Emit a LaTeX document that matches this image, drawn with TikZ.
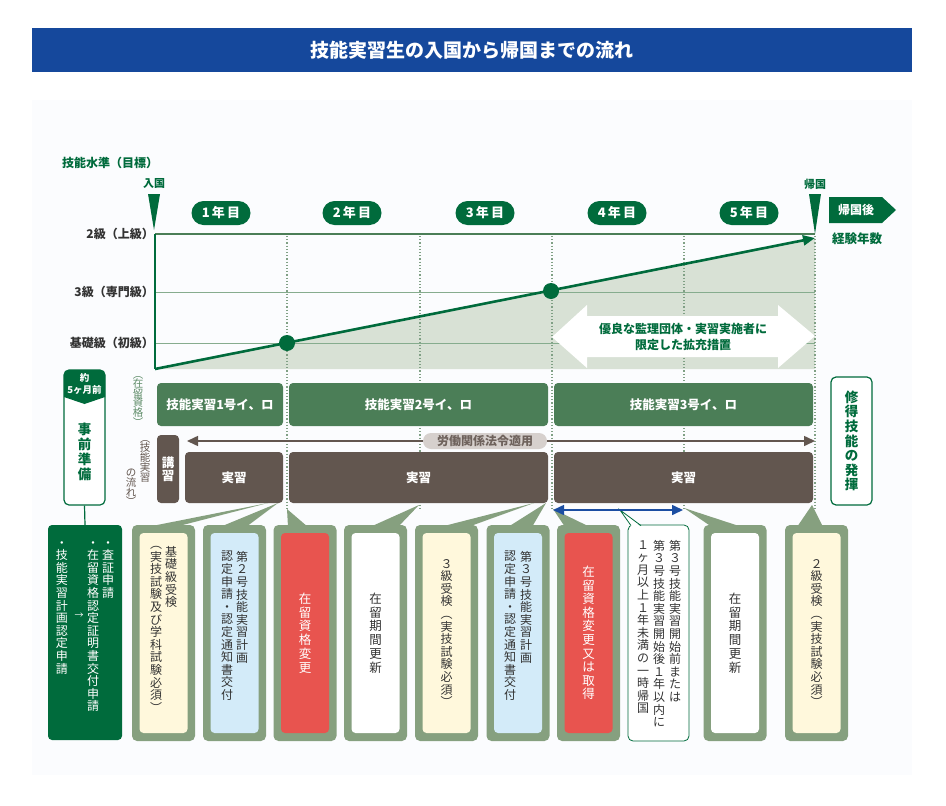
\documentclass[tikz,border=0pt]{standalone}
\usepackage{fontspec}
\setmainfont{Noto Sans CJK JP}
\usetikzlibrary{arrows.meta}

\definecolor{ttlblue}{HTML}{15489C}
\definecolor{dkgreen}{HTML}{006B3C}
\definecolor{midgreen}{HTML}{4B7E57}
\definecolor{brn}{HTML}{62564F}
\definecolor{pillgray}{HTML}{D6D0CD}
\definecolor{pilltext}{HTML}{6E625C}
\definecolor{wedge}{HTML}{86A07F}
\definecolor{areag}{HTML}{D8E1D5}
\definecolor{gridg}{HTML}{86AC8E}
\definecolor{dotg}{HTML}{80A085}
\definecolor{sideg}{HTML}{5E8C68}
\definecolor{yel}{HTML}{FFF8DC}
\definecolor{blu}{HTML}{D3EBF9}
\definecolor{redb}{HTML}{E8544F}
\definecolor{txtgray}{HTML}{333333}
\definecolor{arrblue}{HTML}{1B4EA2}
\definecolor{panel}{HTML}{FBFCFE}

% vertical text: one character per line
\def\tateloop#1{\ifx\relax#1\else\hbox to 1em{\hss#1\hss}\expandafter\tateloop\fi}
\newcommand\tate[2][1.05em]{\vbox{\baselineskip=#1\lineskiplimit=-\maxdimen\tateloop#2\relax}}

\begin{document}
\begin{tikzpicture}[x=1pt,y=-1pt,
  lbl/.style={inner sep=0,text=txtgray,font=\fontsize{12}{14}\selectfont\bfseries},
  grn/.style={inner sep=0,text=dkgreen,font=\fontsize{12}{14}\selectfont\bfseries},
  yearpill/.style={fill=dkgreen,rounded corners=12pt,minimum width=59,minimum height=24,inner sep=0,text=white,font=\fontsize{13}{15}\selectfont\bfseries},
  gbar/.style={fill=midgreen,rounded corners=4pt,minimum height=43,inner sep=0,text=white,font=\fontsize{12.5}{14}\selectfont\bfseries},
  bbar/.style={fill=brn,rounded corners=4pt,minimum height=51,inner sep=0,text=white,font=\fontsize{12.5}{14}\selectfont\bfseries},
  vt/.style={inner sep=0,text=txtgray,font=\fontsize{12}{13}\selectfont},
  vtb/.style={inner sep=0,text=txtgray,font=\fontsize{12.5}{14}\selectfont},
  cbox/.style={fill=wedge,rounded corners=5pt,minimum width=63,minimum height=216,inner sep=0},
  cin/.style={rounded corners=4pt,minimum width=48,minimum height=200,inner sep=0},
  outl/.style={draw=dkgreen,line width=1.2pt,fill=white,rounded corners=5pt,inner sep=0}]
\useasboundingbox (0,0) rectangle (946,806);

% title
\node[fill=ttlblue,minimum width=880,minimum height=44,inner sep=0,text=white,font=\fontsize{19}{21}\selectfont\bfseries] (title) at (472,50) {技能実習生の入国から帰国までの流れ};
\fill[panel] (32,100) rectangle (912,775);

% chart
\node[grn,anchor=west] (lvl) at (62,163) {技能水準（目標）};
\node[grn,font=\fontsize{11}{13}\selectfont\bfseries] (nyukoku) at (154,184) {入国};
\fill[dkgreen] (148,194) -- (160,194) -- (154,230) -- cycle;
\node[grn,font=\fontsize{11}{13}\selectfont\bfseries] (kikoku) at (815,184) {帰国};
\fill[dkgreen] (809,194) -- (821,194) -- (815,234) -- cycle;
\foreach \n/\x in {1/221,2/352,3/485,4/617,5/749}
  \node[yearpill] (y\n) at (\x,213) {\n\,年\,目};

\fill[areag] (155,369) -- (815,238) -- (815,369) -- cycle;
\draw[gridg,line width=1pt] (155,292) -- (815,292);
\draw[gridg,line width=1pt] (155,343) -- (815,343);
\draw[midgreen,line width=1.4pt] (155,234) -- (815,234);
\draw[dkgreen,line width=1.4pt] (155,234) -- (155,369);
\foreach \x in {287,420,552,684,815}
  \draw[dotg,dotted,line width=1.2pt] (\x,236) -- (\x,510);

\node[lbl,anchor=east] (lv2) at (154,234) {2級（上級）};
\node[lbl,anchor=east] (lv3) at (154,292) {3級（専門級）};
\node[lbl,anchor=east] (lv0) at (154,343) {基礎級（初級）};

\fill[white] (552,337) -- (587,305) -- (587,316) -- (778,316) -- (778,305) -- (815,336) -- (778,368) -- (778,357) -- (587,357) -- (587,368) -- cycle;
\node[grn,align=center,font=\fontsize{12}{16}\selectfont\bfseries] (kakuju) at (683,337) {優良な監理団体・実習実施者に\\限定した拡充措置};

\draw[dkgreen,line width=2.6pt,-{Triangle[length=12,width=10]}] (155,369) -- (815,238);
\fill[dkgreen] (287,343) circle (8);
\fill[dkgreen] (551,291) circle (8);

\fill[dkgreen] (829,197) -- (882,197) -- (896,210) -- (882,223) -- (829,223) -- cycle;
\node[text=white,inner sep=0,font=\fontsize{12}{14}\selectfont\bfseries] (kikokugo) at (856,210) {帰国後};
\node[grn,font=\fontsize{12.5}{14}\selectfont\bfseries] (nensu) at (857,239) {経験年数};

% preparation
\node[outl,minimum width=41,minimum height=135] (prep) at (84.5,437.5) {};
\fill[dkgreen] (64,397) [rounded corners=5pt] -- (64,370) -- (105,370) [sharp corners] -- (105,397) -- (84.5,404) -- cycle;
\node[text=white,inner sep=0,font=\fontsize{9.5}{10}\selectfont\bfseries] (yaku) at (84.5,378) {約};
\node[text=white,inner sep=0,font=\fontsize{9.5}{10}\selectfont\bfseries] (kagetsu) at (84.5,390) {5ヶ月前};
\node[grn,font=\fontsize{13.5}{15}\selectfont\bfseries] (junbi) at (84.5,452) {\tate[15pt]{事前準備}};

% status and flow bars
\node[vt,text=sideg,font=\fontsize{10.5}{12}\selectfont,anchor=north] (zairyu) at (138,376) {\tate[9.6pt]{︵在留資格︶}};
\node[vt,text=brn,font=\fontsize{10.5}{12}\selectfont,anchor=north] (nagare1) at (145,440) {\tate[9.8pt]{︵技能実習}};
\node[vt,text=brn,font=\fontsize{10.5}{12}\selectfont,anchor=south] (nagare2) at (131,506) {\tate[9.8pt]{の流れ︶}};

\node[gbar,minimum width=126] (g1) at (220,404.5) {技能実習1号イ、ロ};
\node[gbar,minimum width=259] (g2) at (418.5,404.5) {技能実習2号イ、ロ};
\node[gbar,minimum width=259] (g3) at (683.5,404.5) {技能実習3号イ、ロ};

\coordinate (rs) at (187,441);
\coordinate (re) at (815,441);
\draw[brn,line width=1.5pt,{Triangle[length=11,width=10]}-{Triangle[length=11,width=10]}] (rs) -- (re);
\node[fill=pillgray,rounded corners=8pt,minimum width=124,minimum height=16,inner sep=0,text=pilltext,font=\fontsize{12}{13}\selectfont\bfseries] (law) at (485,441) {労働関係法令適用};

\node[bbar,minimum width=22,minimum height=68] (ko) at (168,469) {\tate{講習}};
\node[bbar,minimum width=98] (j1) at (234,477.5) {実習};
\node[bbar,minimum width=259] (j2) at (418.5,477.5) {実習};
\node[bbar,minimum width=259] (j3) at (683.5,477.5) {実習};

\node[outl,minimum width=41,minimum height=128,text=dkgreen,font=\fontsize{13.5}{15}\selectfont\bfseries] (hakki) at (851.5,441) {\tate[14.6pt]{修得技能の発揮}};

% procedures
\node[fill=dkgreen,rounded corners=4pt,minimum width=74,minimum height=215,inner sep=0] (pre) at (85,632.5) {};
\draw[dkgreen,line width=1.2pt] (prep.south) -- (pre.north);
\node[vt,text=white,anchor=north] (sasho) at (108,541) {\tate{・査証申請}};
\node[vt,text=white,anchor=north] (nintei) at (93,541) {\tate{・在留資格認定証明書交付申請}};
\node[vt,text=white,anchor=north] (keikaku) at (62,541) {\tate{・技能実習計画認定申請}};
\node[text=white,inner sep=0,font=\fontsize{9}{10}\selectfont] (ya) at (79,616) {→};

\foreach \n/\ax/\ay/\l/\r in {1/268/503/147/175,2/278/503/220/246,3/287/509/288/308,4/419/505/370/398,5/534/503/440/468,6/546/503/508/532,7/553/509/565/590,9/684/508/712/742,10/812/505/797/823}{
  \coordinate (t\n) at (\ax,\ay);
  \fill[wedge] (t\n) -- (\l,527) -- (\r,527) -- cycle;
}
\foreach \n/\cx/\fc in {1/163.5/yel,2/234.5/blu,3/305/redb,4/375.5/white,5/446.5/yel,6/518/blu,7/588.5/redb,9/735/white,10/816.5/yel}{
  \node[cbox] (o\n) at (\cx,633) {};
  \node[cin,fill=\fc] (i\n) at (\cx,633) {};
}

\node[vt,anchor=north] (k1a) at (171,546) {\tate{基礎級受検}};
\node[vt,anchor=north] (k1b) at (156,546) {\tate{︵実技試験及び学科試験必須︶}};
\node[vt,anchor=north] (k2a) at (242,551) {\tate{第２号技能実習計画}};
\node[vt,anchor=north] (k2b) at (227,551) {\tate{認定申請・認定通知書交付}};
\node[vtb,text=white] (k3) at (i3) {\tate[13.8pt]{在留資格変更}};
\node[vtb] (k4) at (i4) {\tate[13.8pt]{在留期間更新}};
\node[vt] (k5) at (i5) {\tate{３級受検︵実技試験必須︶}};
\node[vt,anchor=north] (k6a) at (526,551) {\tate{第３号技能実習計画}};
\node[vt,anchor=north] (k6b) at (510,551) {\tate{認定申請・認定通知書交付}};
\node[vtb,text=white] (k7) at (i7) {\tate[13.6pt]{在留資格変更又は取得}};

\node[draw=dkgreen,line width=0.8pt,fill=white,rounded corners=5pt,minimum width=61,minimum height=216,inner sep=0] (o8) at (658.5,633) {};
\coordinate (t8) at (620,510);
\fill[white] (631,527) -- (t8) -- (641,527) -- cycle;
\draw[dkgreen,line width=0.8pt] (631,525.6) -- (t8) -- (641,525.6);
\node[vt,anchor=north] (k8a) at (675,540) {\tate[12.6pt]{第３号技能実習開始前または}};
\node[vt,anchor=north] (k8b) at (659,540) {\tate[12.6pt]{第３号技能実習開始後１年以内に}};
\node[vt,anchor=north] (k8c) at (643,540) {\tate[12.6pt]{１ヶ月以上１年未満の一時帰国}};

\node[vtb] (k9) at (i9) {\tate[13.8pt]{在留期間更新}};
\node[vt] (k10) at (i10) {\tate{２級受検︵実技試験必須︶}};

\coordinate (bs) at (553,510);
\coordinate (be) at (683,510);
\draw[arrblue,line width=1.6pt,{Triangle[length=11,width=10]}-{Triangle[length=11,width=10]}] (bs) -- (be);
\end{tikzpicture}
\end{document}
